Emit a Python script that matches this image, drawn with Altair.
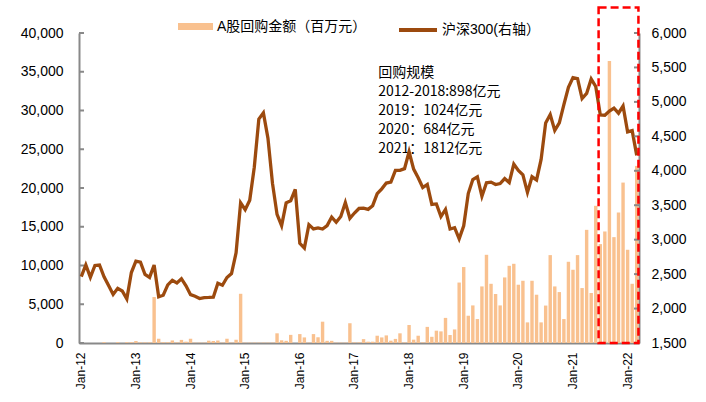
import altair as alt
import pandas as pd

MONTH_ABBR = ["Jan", "Feb", "Mar", "Apr", "May", "Jun",
              "Jul", "Aug", "Sep", "Oct", "Nov", "Dec"]
months = [f"{m}-{y:02d}" for y in range(12, 23) for m in MONTH_ABBR][:123]
x_labels = [f"Jan-{y:02d}" for y in range(12, 23)]

# A-share buyback amount (million yuan), monthly Jan-12 .. Mar-22
buyback = [
    50, 0, 0, 0, 0, 100, 0, 0, 100, 0, 100, 100,                      # 2012
    250, 80, 80, 80, 5930, 550, 100, 100, 330, 80, 400, 170,          # 2013
    550, 50, 50, 50, 300, 260, 320, 50, 550, 50, 420, 6350,           # 2014
    50, 50, 50, 50, 50, 50, 50, 1250, 350, 280, 1050, 0,              # 2015
    1150, 720, 50, 1150, 740, 2750, 280, 280, 50, 50, 50, 2550,       # 2016
    80, 80, 500, 170, 170, 940, 720, 980, 300, 530, 1250, 80,         # 2017
    2320, 430, 940, 80, 2080, 800, 1590, 1500, 3240, 1030, 1750, 7800,  # 2018
    9800, 3520, 4850, 3090, 7300, 11380, 7640, 6320, 4850, 8460, 9960, 10220,  # 2019
    7520, 8030, 2660, 8030, 6230, 2660, 4830, 11340, 7300, 6570, 3090, 10480,  # 2020
    9450, 11340, 7090, 14600, 6450, 17700, 12760, 14390, 36390, 13660, 16830, 20700,  # 2021
    12030, 7640, 22850,                                                # 2022
]

# CSI 300 (right axis), month-end
csi300 = [
    2464, 2634, 2455, 2626, 2632, 2462, 2333, 2205, 2293, 2255, 2140, 2523,
    2687, 2673, 2495, 2452, 2633, 2172, 2194, 2343, 2410, 2371, 2433, 2330,
    2202, 2178, 2146, 2159, 2161, 2165, 2367, 2338, 2451, 2508, 2809, 3534,
    3434, 3573, 4051, 4750, 4841, 4473, 3817, 3367, 3203, 3534, 3566, 3731,
    2946, 2877, 3218, 3157, 3170, 3154, 3204, 3328, 3253, 3336, 3538, 3310,
    3387, 3453, 3456, 3440, 3493, 3667, 3738, 3822, 3837, 4007, 4006, 4031,
    4276, 4024, 3899, 3757, 3802, 3511, 3518, 3335, 3439, 3154, 3173, 3011,
    3202, 3669, 3872, 3913, 3630, 3826, 3835, 3800, 3815, 3887, 3829, 4097,
    4004, 3940, 3686, 3913, 3867, 4164, 4695, 4816, 4587, 4695, 4960, 5211,
    5352, 5337, 5048, 5123, 5332, 5224, 4811, 4806, 4866, 4908, 4836, 4940,
    4564, 4582, 4223,
]

left_ticks = [0, 5000, 10000, 15000, 20000, 25000, 30000, 35000, 40000]
right_ticks = [1500, 2000, 2500, 3000, 3500, 4000, 4500, 5000, 5500, 6000]

bar_name = "A股回购金额（百万元）"
line_name = "沪深300(右轴）"
note_lines = ["回购规模", "2012-2018:898亿元", "2019：1024亿元",
              "2020：684亿元", "2021：1812亿元"]
note_anchor = ["Jun-17", 35700]
box_span = ["Jul-21", "Mar-22"]
box_top = 6370   # in right-axis units (above plot top)

BAR_COLOR = "#F9C18F"
LINE_COLOR = "#9C4A0E"
AXIS_COLOR = "#898989"
BOX_COLOR = "#FF0000"
FONT = "Liberation Sans, Noto Sans CJK SC"
CJK = "Noto Sans CJK SC"
NUM_LABEL = "format(datum.value, ',d')"

W, H = 560, 310

df = pd.DataFrame({
    "month": months,
    "buyback": buyback,
    "csi300": csi300,
    "bar_series": [bar_name] * len(months),
    "line_series": [line_name] * len(months),
})

x_scale = alt.Scale(domain=months, paddingInner=0.25, paddingOuter=0.125)
left_scale = alt.Scale(domain=[0, 40000], nice=False)
right_scale = alt.Scale(domain=[1500, 6000], nice=False, zero=False)

x_axis = alt.Axis(values=x_labels, labelAngle=270, title=None, ticks=False,
                  domainColor=AXIS_COLOR, domainWidth=2, labelFontSize=12,
                  labelPadding=9, labelFont=FONT, labelColor="black",
                  labelOverlap=False, grid=False)
left_axis = alt.Axis(values=left_ticks, labelExpr=NUM_LABEL, title=None, ticks=False,
                     grid=False, domainColor=AXIS_COLOR, domainWidth=2,
                     labelFontSize=14, labelPadding=16, labelFont=FONT,
                     labelColor="black", orient="left")
right_axis = alt.Axis(orient="right", values=right_ticks, labelExpr=NUM_LABEL,
                      title=None, ticks=False, grid=False, domainColor=AXIS_COLOR,
                      domainWidth=2, labelFontSize=14, labelPadding=12,
                      labelFont=FONT, labelColor="black")

bars = alt.Chart(df).mark_bar().encode(
    x=alt.X("month:N", scale=x_scale, axis=x_axis),
    y=alt.Y("buyback:Q", scale=left_scale, axis=left_axis),
    color=alt.Color("bar_series:N",
                    scale=alt.Scale(domain=[bar_name], range=[BAR_COLOR]),
                    legend=alt.Legend(orient="none", legendX=99, legendY=-24, title=None,
                                      symbolType="M-1,-0.2H1V0.2H-1Z", symbolSize=1225,
                                      symbolStrokeWidth=0, labelOffset=4,
                                      labelFont=FONT, labelFontSize=14,
                                      labelColor="black")),
)

note_df = pd.DataFrame({"month": [note_anchor[0]], "y": [note_anchor[1]],
                        "text": ["\n".join(note_lines)]})
note = alt.Chart(note_df).mark_text(
    align="left", baseline="top", font=CJK, fontSize=14, lineHeight=19,
    lineBreak="\n", color="black", dx=1,
).encode(
    x=alt.X("month:N", scale=x_scale, axis=x_axis),
    y=alt.Y("y:Q", scale=left_scale, axis=left_axis),
    text="text:N",
)

lticks = alt.Chart(pd.DataFrame({"v": left_ticks})).mark_rule(
    color=AXIS_COLOR, strokeWidth=2
).encode(
    x=alt.value(0), x2=alt.value(5),
    y=alt.Y("v:Q", scale=left_scale, axis=left_axis),
)

line = alt.Chart(df).mark_line(strokeWidth=3.3).encode(
    x=alt.X("month:N", scale=x_scale, axis=x_axis),
    y=alt.Y("csi300:Q", scale=right_scale, axis=right_axis),
    stroke=alt.Stroke("line_series:N",
                      scale=alt.Scale(domain=[line_name], range=[LINE_COLOR]),
                      legend=alt.Legend(orient="none", legendX=318, legendY=-24,
                                        title=None, symbolType="stroke",
                                        symbolSize=1444, symbolStrokeWidth=4,
                                        labelOffset=3, labelFont=FONT,
                                        labelFontSize=14, labelColor="black")),
)

rticks = alt.Chart(pd.DataFrame({"v": right_ticks})).mark_rule(
    color=AXIS_COLOR, strokeWidth=2
).encode(
    x=alt.value(W - 5), x2=alt.value(W),
    y=alt.Y("v:Q", scale=right_scale, axis=right_axis),
)

box_df = pd.DataFrame({"start": [box_span[0]], "end": [box_span[1]],
                       "top": [box_top], "bottom": [right_ticks[0]]})
box = alt.Chart(box_df).mark_rect(
    filled=False, color=BOX_COLOR, strokeWidth=2.5, strokeDash=[8, 4]
).encode(
    x=alt.X("start:N", scale=x_scale, bandPosition=0, axis=x_axis),
    x2=alt.X2("end:N", bandPosition=1),
    y=alt.Y("top:Q", scale=right_scale, axis=right_axis),
    y2="bottom:Q",
)

left = alt.layer(bars, note, lticks)
right = alt.layer(line, rticks, box)

chart = alt.layer(left, right).resolve_scale(y="independent").properties(
    width=W, height=H,
    padding={"left": 79, "top": 33, "right": 67, "bottom": 59},
    autosize=alt.AutoSizeParams(type="none"),
).configure_view(stroke=None)

chart.save("out.html", embed_options={"renderer": "svg", "actions": False})
